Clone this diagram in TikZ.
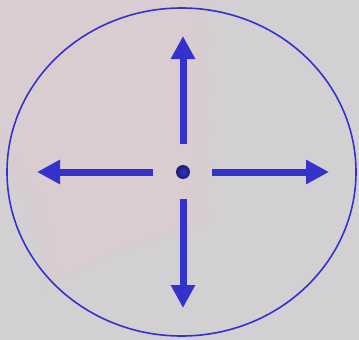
\documentclass[tikz,border=0pt]{standalone}
\usetikzlibrary{arrows.meta}
\definecolor{bggrey}{HTML}{D2D0D3}
\definecolor{bgpink}{HTML}{DDCDD1}
\definecolor{arrowblue}{HTML}{3333CC}
\tikzset{
  dirarrow/.style={draw=arrowblue, line width=7pt, -{Triangle[length=23pt,width=23pt]}},
  rim/.style={draw=arrowblue, line width=1.6pt},
  dot/.style={circle, minimum size=14pt, inner sep=0pt, shading=radial, inner color=arrowblue, outer color=arrowblue!55!black, draw=none},
  pinkglow/.style={fill=bgpink, opacity=0.35}
}
\begin{document}
\begin{tikzpicture}[x=1pt,y=-1pt]
  \useasboundingbox (0,0) rectangle (359,340);
  % background
  \fill[bggrey] (0,0) rectangle (359,340);
  \fill[pinkglow] (0,0) -- (215,0) -- (210,222) .. controls (140,238) and (90,255) .. (45,290) -- (25,200) -- (0,160) -- cycle;
  \fill[pinkglow] (0,0) -- (205,0) -- (200,225) .. controls (140,240) and (95,255) .. (52,285) -- (33,200) -- (0,145) -- cycle;
  \fill[pinkglow] (0,0) -- (195,0) -- (190,228) .. controls (140,240) and (100,255) .. (60,280) -- (42,200) -- (0,130) -- cycle;
  \fill[pinkglow] (0,0) -- (185,0) -- (180,232) .. controls (140,243) and (105,257) .. (68,276) -- (52,200) -- (0,115) -- cycle;
  % ellipse
  \draw[rim] (181.5,172) ellipse [x radius=174.5, y radius=164];
  % centre dot
  \node[dot] (c) at (183,172) {};
  \coordinate (us) at (183,144); \coordinate (ut) at (183,36);
  \coordinate (ds) at (183,199); \coordinate (dt) at (183,308);
  \coordinate (ls) at (153,172); \coordinate (lt) at (37,172);
  \coordinate (rs) at (212,172); \coordinate (rt) at (329,172);
  \draw[dirarrow] (us) -- (ut);
  \draw[dirarrow] (ds) -- (dt);
  \draw[dirarrow] (ls) -- (lt);
  \draw[dirarrow] (rs) -- (rt);
\end{tikzpicture}
\end{document}
